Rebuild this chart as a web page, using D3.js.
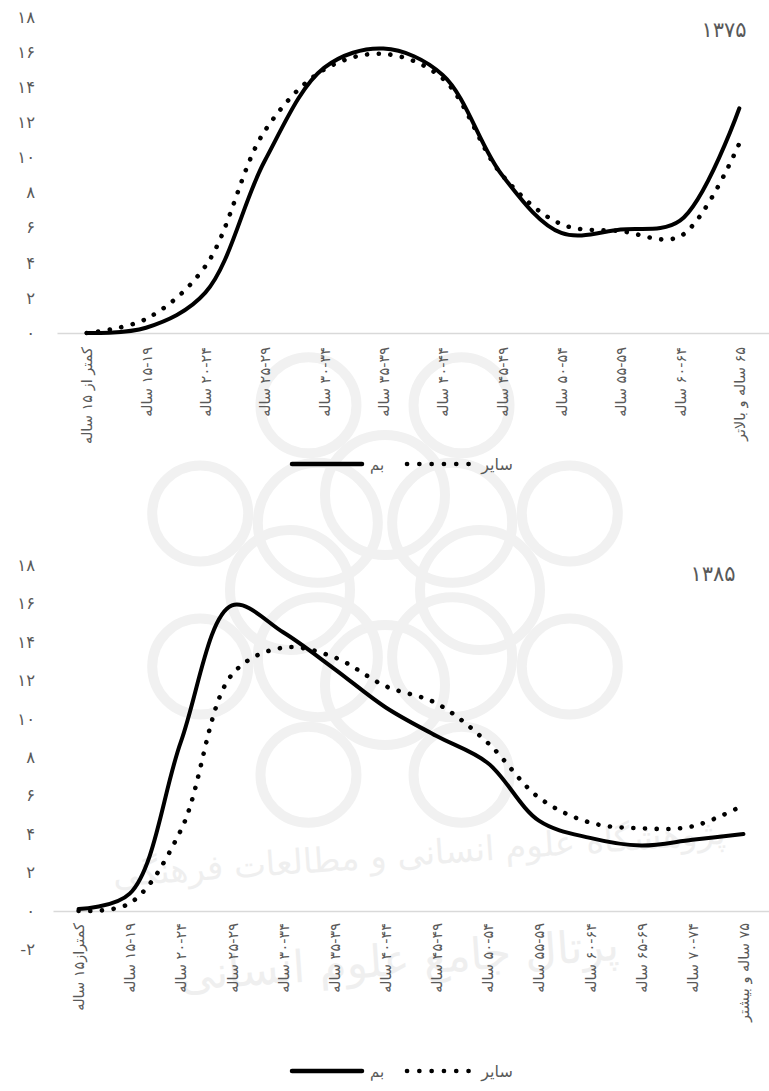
<!DOCTYPE html>
<html>
<head>
<meta charset="utf-8">
<script src="https://cdn.jsdelivr.net/npm/d3@7"></script>
<style>
body { margin: 0; background: #fff; }
text { font-family: 'DejaVu Sans', sans-serif; fill: #595959; }
</style>
</head>
<body>
<div id="container"></div>
<script>
// age groups and percentages
var ageGroups1375 = ['کمتر از ۱۵ ساله', '۱۵-۱۹ ساله', '۲۰-۲۴ ساله', '۲۵-۲۹ ساله', '۳۰-۳۴ ساله', '۳۵-۳۹ ساله',
    '۴۰-۴۴ ساله', '۴۵-۴۹ ساله', '۵۰-۵۴ ساله', '۵۵-۵۹ ساله', '۶۰-۶۴ ساله', '۶۵ ساله و بالاتر'];
var bam1375 = [0, 0.3, 2.3, 9.8, 15.1, 16.2, 14.7, 9.0, 5.7, 5.9, 6.4, 12.8];
var other1375 = [0, 0.8, 3.8, 11.5, 15.0, 15.9, 14.5, 9.0, 6.2, 5.8, 5.5, 10.8];

var ageGroups1385 = ['کمتراز۱۵ ساله', '۱۵-۱۹ ساله', '۲۰-۲۴ ساله', '۲۵-۲۹ ساله', '۳۰-۳۴ ساله', '۳۵-۳۹ ساله',
    '۴۰-۴۴ ساله', '۴۵-۴۹ ساله', '۵۰-۵۴ ساله', '۵۵-۵۹ ساله', '۶۰-۶۴ ساله', '۶۵-۶۹ ساله', '۷۰-۷۴ ساله', '۷۵ ساله و بیشتر'];
var bam1385 = [0.1, 0.9, 8.8, 15.9, 14.5, 12.6, 10.6, 9.1, 7.7, 4.7, 3.8, 3.4, 3.7, 4.0];
var other1385 = [0, 0.4, 4.2, 12.3, 13.7, 13.2, 11.7, 10.8, 8.75, 5.9, 4.6, 4.3, 4.4, 5.5];

var ticks1375 = [0, 2, 4, 6, 8, 10, 12, 14, 16, 18];
var ticks1385 = [-2, 0, 2, 4, 6, 8, 10, 12, 14, 16, 18];
var seriesNames = ['بم', 'سایر'];

var svg = d3.select('#container').append('svg')
    .attr('width', 769)
    .attr('height', 1091)
    .style('display', 'block');

var fa = v => String(v).replace(/\d/g, d => '۰۱۲۳۴۵۶۷۸۹'[d]);

// faint background watermark (rosette + institute text)
var wm = svg.append('g').attr('fill', 'none').attr('stroke', '#f1f1f1').attr('stroke-width', 10);
var rc = [385, 590];
d3.range(8).forEach(i => {
    var a = i * Math.PI / 4;
    wm.append('circle').attr('cx', rc[0] + 95 * Math.cos(a)).attr('cy', rc[1] + 95 * Math.sin(a)).attr('r', 60);
    var b = a + Math.PI / 8;
    wm.append('circle').attr('cx', rc[0] + 200 * Math.cos(b)).attr('cy', rc[1] + 200 * Math.sin(b)).attr('r', 48);
});
svg.append('text').attr('x', 420).attr('y', 865).attr('text-anchor', 'middle')
    .attr('font-size', 34).style('fill', '#efefef').attr('transform', 'rotate(-4,420,865)')
    .text('پژوهشگاه علوم انسانی و مطالعات فرهنگی');
svg.append('text').attr('x', 400).attr('y', 975).attr('text-anchor', 'middle')
    .attr('font-size', 44).style('fill', '#efefef').attr('transform', 'rotate(-4,400,975)')
    .text('پرتال جامع علوم انسانی');

function drawChart(c) {
    var g = svg.append('g');

    var x = d3.scalePoint().domain(c.groups).range(c.xRange).padding(0.5);
    var y = d3.scaleLinear().domain(c.yDomain).range(c.yRange);

    // y labels only, no axis line
    var yAxis = g.append('g')
        .attr('transform', 'translate(' + c.yLabelX + ',0)')
        .call(d3.axisLeft(y).tickValues(c.ticks).tickSize(0).tickPadding(0)
            .tickFormat(d => d < 0 ? '-' + fa(-d) : fa(d)));
    yAxis.select('.domain').remove();
    yAxis.selectAll('text')
        .attr('font-size', 16.5)
        .attr('font-family', 'DejaVu Sans')
        .attr('fill', '#595959');

    // category axis at zero
    var xAxis = g.append('g')
        .attr('transform', 'translate(0,' + y(0) + ')')
        .call(d3.axisBottom(x).tickSize(0).tickSizeOuter(0));
    xAxis.select('.domain').attr('stroke', '#d9d9d9').attr('stroke-width', 1.5);
    xAxis.selectAll('text')
        .attr('transform', 'rotate(-90)')
        .attr('x', -(c.labelTop - y(0)))
        .attr('y', 0)
        .attr('dy', '0.35em')
        .attr('direction', 'rtl')
        .attr('text-anchor', 'start')
        .attr('font-size', 14.5)
        .attr('font-family', 'DejaVu Sans')
        .attr('fill', '#595959');

    var line = d3.line()
        .x((d, i) => x(c.groups[i]))
        .y(d => y(d))
        .curve(d3.curveCatmullRom);

    g.append('path')
        .datum(c.other)
        .attr('d', line)
        .attr('fill', 'none')
        .attr('stroke', '#000')
        .attr('stroke-width', 4.6)
        .attr('stroke-linecap', 'round')
        .attr('stroke-dasharray', '0.1 11.6');

    g.append('path')
        .datum(c.bam)
        .attr('d', line)
        .attr('fill', 'none')
        .attr('stroke', '#000')
        .attr('stroke-width', 4)
        .attr('stroke-linecap', 'round');

    g.append('text')
        .attr('x', c.titleX)
        .attr('y', c.titleY)
        .attr('text-anchor', 'middle')
        .attr('font-size', 21)
        .text(c.title);

    // legend: symbol then name, left to right
    var lg = g.append('g').attr('transform', 'translate(0,' + c.legendY + ')');
    lg.append('line')
        .attr('x1', 292).attr('x2', 362).attr('y1', 0).attr('y2', 0)
        .attr('stroke', '#000').attr('stroke-width', 4.5).attr('stroke-linecap', 'round');
    lg.append('text')
        .attr('x', 377).attr('y', 6)
        .attr('text-anchor', 'middle')
        .attr('font-size', 15)
        .text(seriesNames[0]);
    lg.append('line')
        .attr('x1', 407).attr('x2', 469).attr('y1', 0).attr('y2', 0)
        .attr('stroke', '#000').attr('stroke-width', 4.6).attr('stroke-linecap', 'round')
        .attr('stroke-dasharray', '0.1 12.2');
    lg.append('text')
        .attr('x', 497).attr('y', 6)
        .attr('text-anchor', 'middle')
        .attr('font-size', 16)
        .text(seriesNames[1]);
}

drawChart({
    groups: ageGroups1375, bam: bam1375, other: other1375, ticks: ticks1375,
    xRange: [57, 769], yDomain: [0, 18], yRange: [333, 17],
    yLabelX: 35, labelTop: 347, title: '۱۳۷۵', titleX: 724, titleY: 37, legendY: 464
});

drawChart({
    groups: ageGroups1385, bam: bam1385, other: other1385, ticks: ticks1385,
    xRange: [53, 769], yDomain: [-2, 18], yRange: [949.4, 565],
    yLabelX: 35, labelTop: 923, title: '۱۳۸۵', titleX: 713, titleY: 581, legendY: 1071
});
</script>
</body>
</html>
